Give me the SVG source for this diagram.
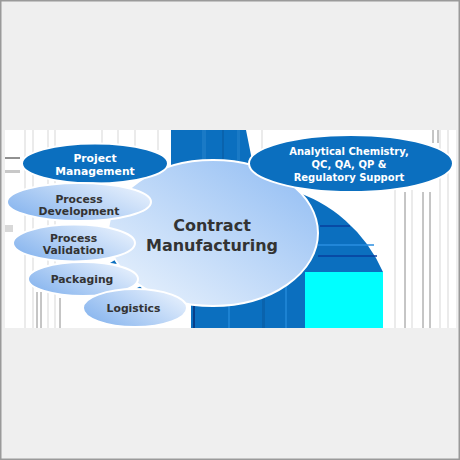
<svg xmlns="http://www.w3.org/2000/svg" width="460" height="460" viewBox="0 0 460 460">
<defs>
<linearGradient id="gSmall" x1="0" y1="0.8" x2="1" y2="0.2">
<stop offset="0" stop-color="#86b4ee"/>
<stop offset="1" stop-color="#e8f1fd"/>
</linearGradient>
<linearGradient id="gCentral" x1="0.9" y1="0.1" x2="0.1" y2="0.9">
<stop offset="0" stop-color="#98c1f4"/>
<stop offset="1" stop-color="#e4effc"/>
</linearGradient>
<style>
.streak{stroke:#e4e4e4;stroke-width:1.5}
.dline{stroke:#8c8c8c;stroke-width:1}
.dark{fill:#0b6fbf;stroke:#ffffff;stroke-width:2}
.light{fill:url(#gSmall);stroke:#ffffff;stroke-width:2}
.wt{font-family:"DejaVu Sans",Verdana,sans-serif;font-weight:bold;fill:#ffffff;text-anchor:middle}
.gt{font-family:"DejaVu Sans",Verdana,sans-serif;font-weight:bold;fill:#333333;text-anchor:middle}
</style>
</defs>
<rect x="0.75" y="0.75" width="458.5" height="458.5" fill="#efefef" stroke="#9a9a9a" stroke-width="1.5"/>
<rect x="5" y="130" width="451" height="198" fill="#ffffff"/>
<g id="streaks">
<line class="streak" x1="25" y1="130" x2="25" y2="328"/>
<line class="streak" x1="33" y1="130" x2="33" y2="328"/>
<line class="streak" x1="48" y1="130" x2="48" y2="328"/>
<line class="streak" x1="55" y1="130" x2="55" y2="328"/>
<line class="streak" x1="102" y1="130" x2="102" y2="150"/>
<line class="streak" x1="118" y1="130" x2="118" y2="150"/>
<line class="streak" x1="135" y1="130" x2="135" y2="150"/>
<line class="streak" x1="158" y1="130" x2="158" y2="150"/>
<line class="streak" x1="262" y1="130" x2="262" y2="150"/>
<line class="streak" x1="395" y1="190" x2="395" y2="328"/>
<line class="streak" x1="412" y1="190" x2="412" y2="328"/>
<line class="streak" x1="440" y1="130" x2="440" y2="328"/>
<line class="streak" x1="448" y1="130" x2="448" y2="328"/>
<line class="dline" x1="405" y1="192" x2="405" y2="328"/>
<line class="dline" x1="423" y1="192" x2="423" y2="328"/>
<line class="dline" x1="430" y1="192" x2="430" y2="328"/>
<line class="dline" x1="433" y1="130" x2="433" y2="143"/>
<line class="dline" x1="438" y1="130" x2="438" y2="143"/>
<line class="dline" x1="37" y1="292" x2="37" y2="328"/>
<line class="dline" x1="41" y1="292" x2="41" y2="328"/>
<line class="dline" x1="60" y1="298" x2="60" y2="328"/>
<line x1="5" y1="158" x2="20" y2="158" stroke="#222" stroke-width="1"/>
<rect x="5" y="170" width="15" height="3" fill="#c8c8c8"/>
<rect x="5" y="225" width="8" height="7" fill="#d8d8d8"/>
</g>
<g id="backdrop">
<path d="M171,130 H246 L252,160 L290,190 A146,146 0 0 1 383,272 V328 H191 L191,290 L171,170 Z" fill="#0b6fbf"/>
<rect x="202" y="130" width="4" height="35" fill="#1a7ac6"/>
<rect x="222" y="130" width="2" height="35" fill="#0a63ad"/>
<rect x="237" y="130" width="3" height="35" fill="#1a7ac6"/>
<rect x="193" y="300" width="2" height="28" fill="#073f8a"/>
<rect x="228" y="300" width="2" height="28" fill="#1c82d2"/>
<rect x="262" y="290" width="3" height="38" fill="#0a63ad"/>
<rect x="285" y="285" width="2" height="43" fill="#1c82d2"/>
<line x1="320" y1="226" x2="350" y2="226" stroke="#083e9c" stroke-width="1.5"/>
<line x1="318" y1="245" x2="374" y2="245" stroke="#2a8ee0" stroke-width="1.5"/>
<line x1="318" y1="256" x2="377" y2="256" stroke="#083e9c" stroke-width="1.5"/>
<rect x="305" y="272" width="78" height="56" fill="#00ffff"/>
<path d="M110,263 l5,-3 l2,4 z" fill="#0b6fbf"/>
<path d="M135,289 l6,-3 l2,5 z" fill="#0b6fbf"/>
</g>
<g id="connectors"></g>
<g id="central">
<ellipse cx="213" cy="233" rx="105" ry="73" fill="url(#gCentral)" stroke="#ffffff" stroke-width="2"/>
<text class="gt" x="212" y="231" font-size="16">Contract</text>
<text class="gt" x="212" y="251" font-size="16">Manufacturing</text>
</g>
<g id="analytical">
<ellipse class="dark" cx="351" cy="163.5" rx="102" ry="28.5"/>
<text class="wt" x="349" y="155" font-size="10">Analytical Chemistry,</text>
<text class="wt" x="349" y="168" font-size="10">QC, QA, QP &amp;</text>
<text class="wt" x="349" y="181" font-size="10">Regulatory Support</text>
</g>
<g id="project-management">
<ellipse class="dark" cx="95" cy="163.5" rx="73" ry="20"/>
<text class="wt" x="95" y="161.5" font-size="10.8">Project</text>
<text class="wt" x="95" y="174.5" font-size="10.8">Management</text>
</g>
<g id="process-development">
<ellipse class="light" cx="79" cy="202" rx="72" ry="19"/>
<text class="gt" x="79" y="203" font-size="10.8">Process</text>
<text class="gt" x="79" y="215" font-size="10.8">Development</text>
</g>
<g id="process-validation">
<ellipse class="light" cx="74" cy="243" rx="61" ry="18.5"/>
<text class="gt" x="73.5" y="241.7" font-size="10.8">Process</text>
<text class="gt" x="73.5" y="254.3" font-size="10.8">Validation</text>
</g>
<g id="packaging">
<ellipse class="light" cx="83" cy="279" rx="55" ry="17"/>
<text class="gt" x="82" y="283.3" font-size="10.8">Packaging</text>
</g>
<g id="logistics">
<ellipse class="light" cx="135" cy="308" rx="52" ry="19"/>
<text class="gt" x="133.5" y="312.3" font-size="10.8">Logistics</text>
</g>
</svg>
